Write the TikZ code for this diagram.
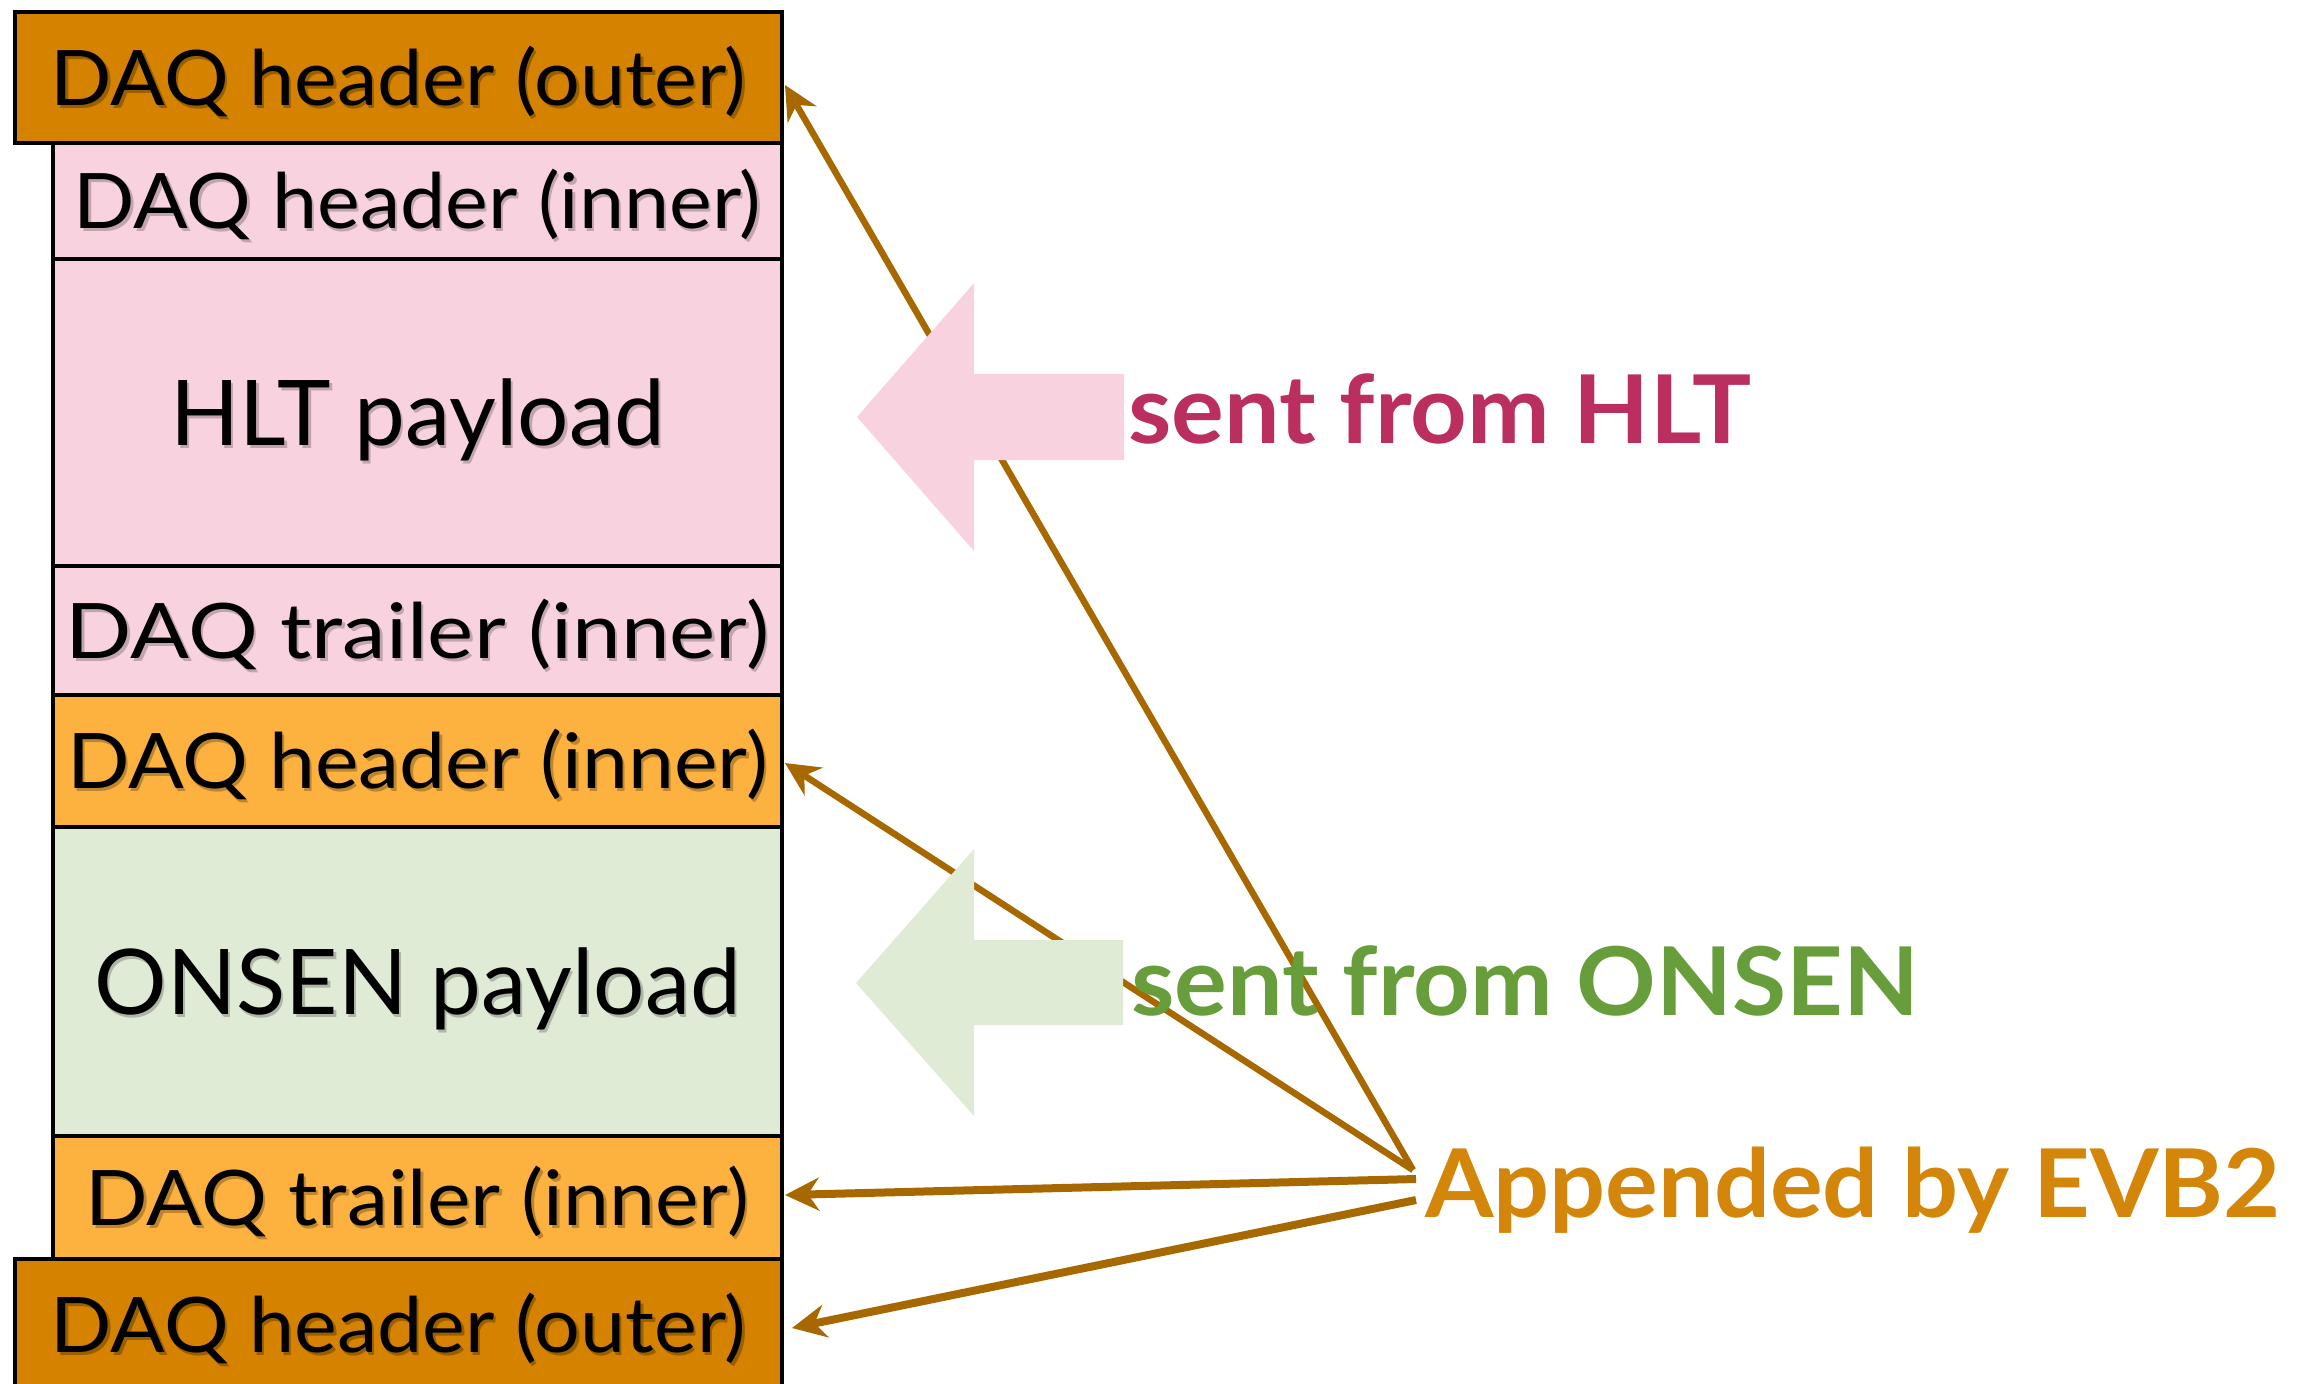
\documentclass[tikz,border=0pt]{standalone}
\usepackage{fontspec}
\usetikzlibrary{arrows.meta}
\newfontfamily\outerfont{Lato}[FakeStretch=1.055]
\newfontfamily\innerfont{Lato}[FakeStretch=1.075]
\newfontfamily\trailerfont{Lato}[FakeStretch=1.14]
\newfontfamily\payloadfont{Lato}[FakeStretch=1.0]
\newfontfamily\tagfont{Lato}[FakeStretch=1.04,UprightFont={* Bold}]

\definecolor{outerfill}{HTML}{D48200}
\definecolor{pinkfill}{HTML}{F8D3DF}
\definecolor{orangefill}{HTML}{FDB13F}
\definecolor{greenfill}{HTML}{DFEBD4}
\definecolor{linkcol}{HTML}{A86800}
\definecolor{hltcol}{HTML}{BA2F5F}
\definecolor{onsencol}{HTML}{679D3A}
\definecolor{evbcol}{HTML}{D4860A}

% text with a soft dark copy offset down-right
\newcommand\shadowed[2]{\makebox[0pt][l]{\kern0.25mm\raisebox{-0.3mm}{\textcolor{#1}{#2}}}#2}

\tikzset{
  block/.style={draw=black, line width=0.45mm, inner sep=0pt, outer sep=0pt,
    anchor=north west, align=center, text height=5.5mm, text depth=0pt},
  small/.style={font=#1\fontsize{21.8pt}{24pt}\selectfont},
  wideblock/.style={block, minimum width=76.7mm},
  narrowblock/.style={block, minimum width=72.9mm},
  payload/.style={text height=6.5mm, font=\payloadfont\fontsize{25.8pt}{28pt}\selectfont},
  tag/.style={inner sep=0pt, outer sep=0pt, anchor=base west,
    font=\tagfont\fontsize{27pt}{30pt}\selectfont},
  link/.style={draw=linkcol, line width=0.65mm,
    -{Stealth[length=3.4mm, width=3.3mm, inset=1.1mm]}},
  heavylink/.style={link, line width=0.8mm},
}

\begin{document}
\begin{tikzpicture}[x=0.1mm, y=-0.1mm]
\useasboundingbox (0,0) rectangle (2304,1383);

% event fragment stack
\node[narrowblock, small=\outerfont, fill=pinkfill, minimum height=11.6mm] (hdrInA) at (53,143)
  {\shadowed{pinkfill!78!black}{DAQ header (inner)}};
\node[narrowblock, payload, fill=pinkfill, minimum height=30.7mm] (hlt) at (53,259)
  {\shadowed{pinkfill!78!black}{HLT payload}};
\node[narrowblock, small=\trailerfont, fill=pinkfill, minimum height=12.9mm] (trlInA) at (53,566)
  {\shadowed{pinkfill!78!black}{DAQ trailer (inner)}};
\node[narrowblock, small=\innerfont, fill=orangefill, minimum height=13.2mm] (hdrInB) at (53,695)
  {\shadowed{orangefill!75!black}{DAQ header (inner)}};
\node[narrowblock, payload, fill=greenfill, minimum height=30.9mm] (onsen) at (53,827)
  {\shadowed{greenfill!78!black}{ONSEN payload}};
\node[narrowblock, small=\innerfont, fill=orangefill, minimum height=12.3mm] (trlInB) at (53,1136)
  {\shadowed{orangefill!75!black}{DAQ trailer (inner)}};
\node[wideblock, small=\outerfont, fill=outerfill, minimum height=13.1mm] (hdrTop) at (15,12)
  {\shadowed{outerfill!72!black}{DAQ header (outer)}};
\node[wideblock, small=\outerfont, fill=outerfill, minimum height=13.1mm] (hdrBot) at (15,1259)
  {\shadowed{outerfill!72!black}{DAQ header (outer)}};

% fan of connectors from the EVB2 label
\coordinate (fanA) at (1413,1170);
\coordinate (fanB) at (1416,1179);
\coordinate (fanC) at (1416,1200);
\draw[link] (fanA) -- ([xshift=0.3mm, yshift=-0.75mm]hdrTop.east);
\draw[link] (fanA) -- ([xshift=0.3mm, yshift=-0.2mm]hdrInB.east);
\draw[heavylink] (fanB) -- ([xshift=0.3mm, yshift=0.25mm]trlInB.east);
\draw[heavylink] (fanC) -- ([xshift=1mm, yshift=-0.35mm]hdrBot.east);

% block arrows marking the sources
\fill[pinkfill] (857,417) -- (974,283) -- (974,374) -- (1124,374) -- (1124,460)
  -- (974,460) -- (974,551) -- cycle;
\fill[greenfill] (856,983) -- (974,849) -- (974,940) -- (1123,940) -- (1123,1025)
  -- (974,1025) -- (974,1116) -- cycle;

% labels
\node[tag, text=hltcol] (fromHLT) at (1128,443) {sent from HLT};
\node[tag, text=onsencol] (fromONSEN) at (1131,1015) {sent from ONSEN};
\node[tag, text=evbcol] (evb) at (1425,1217) {Appended by EVB2};
\end{tikzpicture}
\end{document}
